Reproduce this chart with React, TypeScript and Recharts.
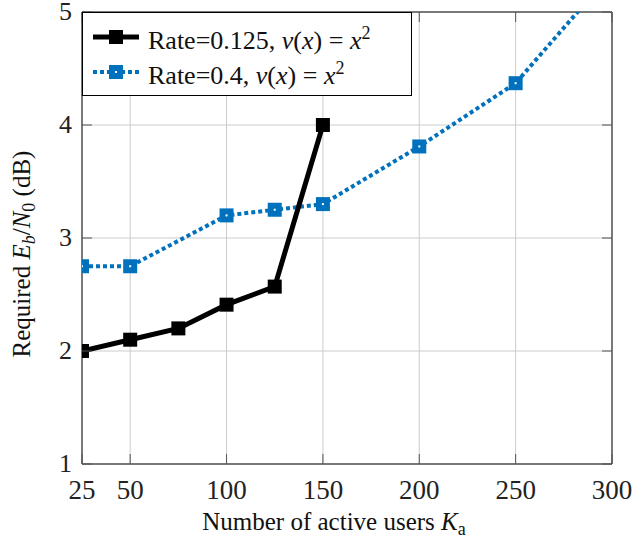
import {
    CartesianGrid,
    Legend,
    Line,
    LineChart,
    ReferenceLine,
    XAxis,
    YAxis
} from "recharts";

// Rate = 0.125, nu(x) = x^2
const usersLow = [25, 50, 75, 100, 125, 150];
const ebn0Low = [2.0, 2.1, 2.2, 2.41, 2.57, 4.0];

// Rate = 0.4, nu(x) = x^2
const usersHigh = [25, 50, 100, 125, 150, 200, 250, 300];
const ebn0High = [2.75, 2.75, 3.2, 3.25, 3.3, 3.81, 4.37, 5.35];

const xTicks = [25, 50, 100, 150, 200, 250, 300];
const yTicks = [1, 2, 3, 4, 5];

const lowData = usersLow.map((k, i) => ({k, v: ebn0Low[i]}));
const highData = usersHigh.map((k, i) => ({k, v: ebn0High[i]}));

const BLUE = "#0072BD";
const FONT = "'Liberation Serif', 'DejaVu Serif', serif";
const TICK_LEN = 10;
const PLOT_TOP = 12;
const PLOT_LEFT = 82;
const PLOT_RIGHT = 612;
const PLOT_BOTTOM = 464;

const XTick = (props: any) => {
    const {x, y, payload} = props;
    return (
        <g>
            <line x1={x} x2={x} y1={PLOT_BOTTOM} y2={PLOT_BOTTOM - TICK_LEN} stroke="#555"/>
            <line x1={x} x2={x} y1={PLOT_TOP} y2={PLOT_TOP + TICK_LEN} stroke="#555"/>
            <text x={x} y={y + 33} textAnchor="middle" fontFamily={FONT} fontSize={27} fill="#222">
                {payload.value}
            </text>
        </g>
    );
};

const YTick = (props: any) => {
    const {y, payload} = props;
    return (
        <g>
            <line x1={PLOT_LEFT} x2={PLOT_LEFT + TICK_LEN} y1={y} y2={y} stroke="#555"/>
            <line x1={PLOT_RIGHT} x2={PLOT_RIGHT - TICK_LEN} y1={y} y2={y} stroke="#555"/>
            <text x={PLOT_LEFT - 10} y={y + 8} textAnchor="end" fontFamily={FONT} fontSize={26} fill="#222">
                {payload.value}
            </text>
        </g>
    );
};

const BlackSquare = (props: any) => {
    const {cx, cy} = props;
    if (cx == null || cy == null) return null;
    return <rect x={cx - 7} y={cy - 7} width={14} height={14} fill="#000"/>;
};

const BlueSquare = (props: any) => {
    const {cx, cy} = props;
    if (cx == null || cy == null) return null;
    return (
        <g>
            <rect x={cx - 7} y={cy - 7} width={14} height={14} fill={BLUE}/>
            <rect x={cx - 1} y={cy - 1} width={2} height={2} fill="#fff"/>
        </g>
    );
};

const YLabel = () => (
    <text
        transform="translate(30, 254) rotate(-90)"
        textAnchor="middle"
        fontFamily={FONT}
        fontSize={25}
        fill="#111"
    >
        Required <tspan fontStyle="italic">E</tspan>
        <tspan fontStyle="italic" fontSize={18} dy={5}>b</tspan>
        <tspan dy={-5}>/</tspan>
        <tspan fontStyle="italic">N</tspan>
        <tspan fontSize={18} dy={5}>0</tspan>
        <tspan dy={-5}> (dB)</tspan>
    </text>
);

const XLabel = () => (
    <text x={334} y={530} textAnchor="middle" fontFamily={FONT} fontSize={25} fill="#111">
        Number of active users <tspan fontStyle="italic">K</tspan>
        <tspan fontSize={18} dy={5}>a</tspan>
    </text>
);

const LegendBox = () => {
    const row = (label: string, color: string, dashed: boolean, dot: boolean) => (
        <div style={{display: "flex", alignItems: "center", height: 35}}>
            <svg width={50} height={20} style={{marginRight: 7}}>
                <line x1={2} x2={48} y1={10} y2={10} stroke={color} strokeWidth={dashed ? 4 : 5}
                      strokeDasharray={dashed ? "4 3" : undefined}/>
                <rect x={18} y={3} width={14} height={14} fill={color}/>
                {dot && <rect x={24} y={9} width={2} height={2} fill="#fff"/>}
            </svg>
            <span>
                {label}, <i>ν</i>(<i>x</i>) = <i>x</i><sup style={{fontSize: 18}}>2</sup>
            </span>
        </div>
    );
    return (
        <div style={{
            border: "1.5px solid #000",
            background: "#fff",
            padding: "6px 12px 6px 8px",
            fontFamily: FONT,
            fontSize: 26,
            lineHeight: "25px",
            color: "#111",
            width: 308,
            boxSizing: "content-box",
            whiteSpace: "nowrap"
        }}>
            {row("Rate=0.125", "#000", false, false)}
            {row("Rate=0.4", BLUE, true, true)}
        </div>
    );
};

export default function App() {
    return (
        <div style={{position: "absolute", left: 0, top: 0}}>
            <LineChart
                width={634}
                height={539}
                margin={{top: PLOT_TOP, right: 634 - PLOT_RIGHT, bottom: 15, left: 10}}
            >
                <CartesianGrid stroke="#cccccc" strokeWidth={1}/>
                <XAxis
                    dataKey="k"
                    type="number"
                    domain={[25, 300]}
                    ticks={xTicks}
                    tick={<XTick/>}
                    tickLine={false}
                    tickSize={0}
                    height={60}
                    axisLine={{stroke: "#555", strokeWidth: 1.5}}
                    allowDataOverflow
                    label={<XLabel/>}
                />
                <YAxis
                    type="number"
                    domain={[1, 5]}
                    ticks={yTicks}
                    tick={<YTick/>}
                    tickLine={false}
                    tickSize={0}
                    width={PLOT_LEFT - 10}
                    axisLine={{stroke: "#555", strokeWidth: 1.5}}
                    allowDataOverflow
                    label={<YLabel/>}
                />
                <ReferenceLine y={5} stroke="#555" strokeWidth={1.5}/>
                <ReferenceLine x={300} stroke="#555" strokeWidth={1.5}/>
                <Line
                    data={highData}
                    dataKey="v"
                    stroke={BLUE}
                    strokeWidth={4}
                    strokeDasharray="4 3"
                    dot={<BlueSquare/>}
                    activeDot={false}
                    isAnimationActive={false}
                />
                <Line
                    data={lowData}
                    dataKey="v"
                    stroke="#000"
                    strokeWidth={5}
                    dot={<BlackSquare/>}
                    activeDot={false}
                    isAnimationActive={false}
                />
                <Legend
                    layout="vertical"
                    align="center"
                    verticalAlign="middle"
                    content={<LegendBox/>}
                    wrapperStyle={{left: PLOT_LEFT, top: PLOT_TOP, width: "auto", height: "auto"}}
                />
            </LineChart>
        </div>
    );
}
